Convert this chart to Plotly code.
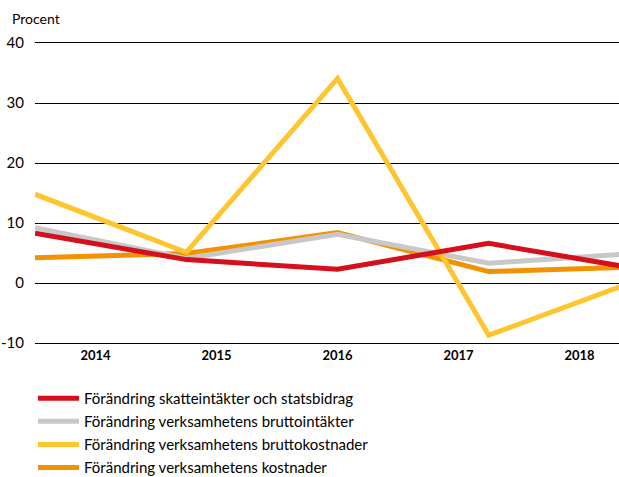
import plotly.graph_objects as go

years = ["2014", "2015", "2016", "2017", "2018"]
skatt = [8.3, 3.9, 2.3, 6.6, 2.3]
brutto_int = [9.2, 4.1, 8.1, 3.3, 5.0]
brutto_kost = [14.8, 5.1, 34.1, -8.7, 0.6]
kostnader = [4.2, 4.9, 8.4, 1.9, 2.7]
yticks = [-10, 0, 10, 20, 30, 40]

names = [
    "Förändring skatteintäkter och statsbidrag",
    "Förändring verksamhetens bruttointäkter",
    "Förändring verksamhetens bruttokostnader",
    "Förändring verksamhetens kostnader",
]
colors = ["#D50F1C", "#C8C8C8", "#FFC52F", "#F39200"]
series = [skatt, brutto_int, brutto_kost, kostnader]

n = len(years)
xs = list(range(n))
# category centres for labels (categories span the same width as the data)
tickpos = [(i + 0.5) * (n - 1) / n for i in range(n)]

FONT = "Lato, sans-serif"

fig = go.Figure()
# draw order: orange, grey, yellow, red on top as in the reference
order = [3, 1, 2, 0]
for i in order:
    fig.add_trace(go.Scatter(
        x=xs, y=series[i], mode="lines", name=names[i],
        line=dict(color=colors[i], width=5), legendrank=i + 1,
        legendgroup=str(i),
    ))

fig.update_layout(
    width=619, height=477,
    margin=dict(l=35, r=0, t=43, b=134, autoexpand=False),
    plot_bgcolor="white", paper_bgcolor="white",
    font=dict(family=FONT, size=15, color="black"),
    showlegend=True,
    legend=dict(
        x=(33 - 35) / 584, y=(343 - 382) / 300, xanchor="left", yanchor="top",
        orientation="v", font=dict(size=15), tracegroupgap=0.6,
        itemwidth=41, bgcolor="rgba(0,0,0,0)",
    ),
    xaxis=dict(
        range=[0, (n - 1) * 584 / 605], tickvals=tickpos, ticktext=years,
        showgrid=False, zeroline=False, showline=True, mirror=True,
        linecolor="black", linewidth=1, ticks="",
        tickfont=dict(size=13, family=FONT, weight="bold"),
    ),
    yaxis=dict(
        range=[-10, 40], tickvals=yticks, ticktext=[str(v) for v in yticks],
        showgrid=True, gridcolor="black", gridwidth=1,
        zeroline=True, zerolinecolor="black", zerolinewidth=1,
        ticks="", ticklabelstandoff=10, tickfont=dict(size=15),
    ),
    annotations=[dict(
        text="Procent", xref="paper", yref="paper",
        x=(10 - 35) / 584, y=1 + (43 - 18) / 300,
        xanchor="left", yanchor="middle", showarrow=False,
        font=dict(size=14),
    )],
)

fig.write_html(
    "out.html",
    config={"displayModeBar": False},
    post_script="document.body.style.margin='0';",
)
